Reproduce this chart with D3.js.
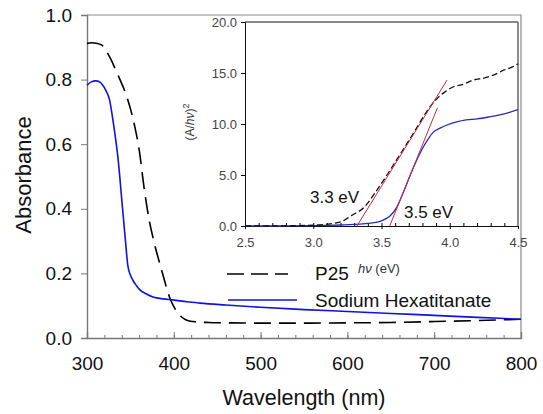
<!DOCTYPE html>
<html>
<head>
<meta charset="utf-8">
<script src="https://cdn.jsdelivr.net/npm/d3@7"></script>
<style>
  body { margin: 0; background: #fff; }
  svg { display: block; font-family: "Liberation Sans", Arial, sans-serif; }
</style>
</head>
<body>
<svg id="chart" width="543" height="414"></svg>
<script>
// main spectrum (wavelength nm -> absorbance)
const p25Wl  = [300,305,312,318,323,328,332,338,342,346,351,355,360,366,372,377,386,396,402,409,415,425,440,460,500,550,600,650,700,750,800];
const p25Abs = [0.912,0.914,0.912,0.905,0.885,0.86,0.836,0.80,0.775,0.746,0.70,0.655,0.585,0.46,0.36,0.30,0.21,0.12,0.088,0.065,0.055,0.05,0.048,0.047,0.046,0.046,0.047,0.048,0.051,0.054,0.058];
const naWl   = [300,305,310,315,318,322,326,329,332,336,340,344,347,350,353,357,361,368,376,388,399,415,430,460,500,550,600,650,700,750,800];
const naAbs  = [0.783,0.793,0.796,0.792,0.783,0.765,0.737,0.69,0.635,0.55,0.43,0.31,0.225,0.195,0.178,0.162,0.149,0.137,0.127,0.121,0.118,0.112,0.108,0.102,0.095,0.088,0.082,0.076,0.070,0.064,0.058];

// inset Tauc plot (hv eV -> (A/hv)^2)
const tP25E = [2.5,2.8,3.0,3.1,3.2,3.29,3.37,3.45,3.54,3.64,3.73,3.83,3.9,3.96,4.02,4.1,4.17,4.25,4.32,4.4,4.46,4.5];
const tP25Y = [0,0.02,0.08,0.18,0.4,1.1,1.8,3.2,5.0,7.1,9.0,11.2,12.4,13.1,13.6,13.9,14.3,14.5,14.8,15.3,15.6,15.9];
const tNaE  = [2.5,2.8,3.0,3.1,3.2,3.3,3.4,3.49,3.53,3.56,3.61,3.66,3.72,3.80,3.85,3.88,3.93,3.98,4.05,4.12,4.2,4.29,4.4,4.5];
const tNaY  = [0,0.01,0.03,0.06,0.1,0.15,0.25,0.45,0.7,0.95,1.8,3.3,5.3,7.6,8.7,9.2,9.6,9.9,10.2,10.4,10.5,10.7,11.0,11.4];
const tangent1 = [[3.32,0],[3.98,14.3]];
const tangent2 = [[3.56,0],[3.91,11.6]];

const mainXTicks = [300,400,500,600,700,800];
const mainYTicks = [0,0.2,0.4,0.6,0.8,1.0];
const insetXTicks = [2.5,3.0,3.5,4.0,4.5];
const insetYTicks = [0,5,10,15,20];

const seriesNames = ["P25", "Sodium Hexatitanate"];

const svg = d3.select("#chart");

// ---------- main plot ----------
const x = d3.scaleLinear().domain([300, 800]).range([87, 521]);
const y = d3.scaleLinear().domain([0, 1.0]).range([338, 15]);

// frame top/right
svg.append("path")
  .attr("d", `M${x(300)},${y(1)}H${x(800)}V${y(0)}`)
  .attr("fill", "none").attr("stroke", "#888").attr("stroke-width", 1.2);

const xAxis = svg.append("g").attr("transform", `translate(0,${y(0)})`)
  .call(d3.axisBottom(x).tickValues(mainXTicks).tickSize(-6).tickPadding(19).tickFormat(d3.format("d")));
svg.append("g").attr("transform", `translate(0,${y(0)})`)
  .call(d3.axisBottom(x).tickValues(d3.range(300, 801, 20)).tickSize(-3).tickFormat(""))
  .select(".domain").remove();

const yAxis = svg.append("g").attr("transform", `translate(${x(300)},0)`)
  .call(d3.axisLeft(y).tickValues(mainYTicks).tickSize(6).tickPadding(9).tickFormat(d3.format(".1f")));

[xAxis, yAxis].forEach(g => {
  g.select(".domain").attr("stroke", "#777").attr("stroke-width", 1.4);
  g.selectAll("text").attr("font-size", 19).attr("fill", "#111").attr("font-family", "Liberation Sans, Arial, sans-serif");
});
svg.selectAll(".tick line").attr("stroke", "#777");

svg.append("text").attr("x", 304).attr("y", 405).attr("text-anchor", "middle")
  .attr("font-size", 21.5).attr("fill", "#111").text("Wavelength (nm)");
svg.append("text").attr("transform", "translate(31,175) rotate(-90)").attr("text-anchor", "middle")
  .attr("font-size", 22).attr("fill", "#111").text("Absorbance");

const line = d3.line().curve(d3.curveMonotoneX).x(d => x(d[0])).y(d => y(d[1]));
svg.append("path").datum(p25Wl.map((w, i) => [w, p25Abs[i]]))
  .attr("d", line).attr("fill", "none").attr("stroke", "#000")
  .attr("stroke-width", 1.6).attr("stroke-dasharray", "17,8");
svg.append("path").datum(naWl.map((w, i) => [w, naAbs[i]]))
  .attr("d", line).attr("fill", "none").attr("stroke", "#1212e0")
  .attr("stroke-width", 1.6);

// legend
const legend = svg.append("g");
legend.append("line").attr("x1", 227).attr("x2", 288).attr("y1", 274).attr("y2", 274)
  .attr("stroke", "#000").attr("stroke-width", 1.6).attr("stroke-dasharray", "17,7");
legend.append("line").attr("x1", 228).attr("x2", 297).attr("y1", 300).attr("y2", 300)
  .attr("stroke", "#1212e0").attr("stroke-width", 1.6);
legend.selectAll("text.lbl").data(seriesNames).join("text")
  .attr("x", 315).attr("y", (d, i) => 280 + i * 27)
  .attr("font-size", 19).attr("fill", "#111").text(d => d);

// ---------- inset ----------
const ix = d3.scaleLinear().domain([2.5, 4.5]).range([245, 518]);
const iy = d3.scaleLinear().domain([0, 20]).range([226, 22]);

svg.append("rect").attr("x", ix(2.5)).attr("y", iy(20))
  .attr("width", ix(4.5) - ix(2.5)).attr("height", iy(0) - iy(20))
  .attr("fill", "#fff");
svg.append("path")
  .attr("d", `M${ix(2.5)},${iy(20)}H${ix(4.5)}`)
  .attr("stroke", "#111").attr("stroke-width", 1);
svg.append("path")
  .attr("d", `M${ix(4.5)},${iy(20)}V${iy(0)}`)
  .attr("stroke", "#666").attr("stroke-width", 1.5);

const ixAxis = svg.append("g").attr("transform", `translate(0,${iy(0)})`)
  .call(d3.axisBottom(ix).tickValues(insetXTicks).tickSize(3).tickPadding(9).tickFormat(d3.format(".1f")));
svg.append("g").attr("transform", `translate(0,${iy(0)})`)
  .call(d3.axisBottom(ix).tickValues(d3.range(26, 45).map(v => v / 10)).tickSize(-3).tickFormat(""))
  .select(".domain").remove();
const iyAxis = svg.append("g").attr("transform", `translate(${ix(2.5)},0)`)
  .call(d3.axisLeft(iy).tickValues(insetYTicks).tickSize(4).tickPadding(4).tickFormat(d3.format(".1f")));
[ixAxis, iyAxis].forEach(g => {
  g.select(".domain").attr("stroke", "#111");
  g.selectAll("text").attr("font-size", 13).attr("fill", "#444").attr("font-family", "Liberation Sans, Arial, sans-serif");
});

const iline = d3.line().curve(d3.curveMonotoneX).x(d => ix(d[0])).y(d => iy(d[1]));
svg.append("path").datum(tNaE.map((e, i) => [e, tNaY[i]]))
  .attr("d", iline).attr("fill", "none").attr("stroke", "#2828c0").attr("stroke-width", 1.3);
svg.append("path").datum(tP25E.map((e, i) => [e, tP25Y[i]]))
  .attr("d", iline).attr("fill", "none").attr("stroke", "#111")
  .attr("stroke-width", 1.3).attr("stroke-dasharray", "6,3");
[tangent1, tangent2].forEach(t => {
  svg.append("path").datum(t).attr("d", d3.line().x(d => ix(d[0])).y(d => iy(d[1])))
    .attr("fill", "none").attr("stroke", "#cc2a3a").attr("stroke-width", 1);
});

svg.append("text").attr("x", 310).attr("y", 203).attr("font-size", 17).attr("fill", "#111").text("3.3 eV");
svg.append("text").attr("x", 404).attr("y", 218).attr("font-size", 17).attr("fill", "#111").text("3.5 eV");

const xl = svg.append("text").attr("x", 358).attr("y", 273).attr("font-size", 13).attr("fill", "#333");
xl.append("tspan").attr("font-style", "italic").text("hν");
xl.append("tspan").text(" (eV)");

const yl = svg.append("text").attr("transform", "translate(194,122) rotate(-90)")
  .attr("text-anchor", "middle").attr("font-size", 12).attr("fill", "#333");
yl.append("tspan").text("(A/");
yl.append("tspan").attr("font-style", "italic").text("hν");
yl.append("tspan").text(")");
yl.append("tspan").attr("font-size", 9).attr("dy", -5).text("2");
</script>
</body>
</html>
